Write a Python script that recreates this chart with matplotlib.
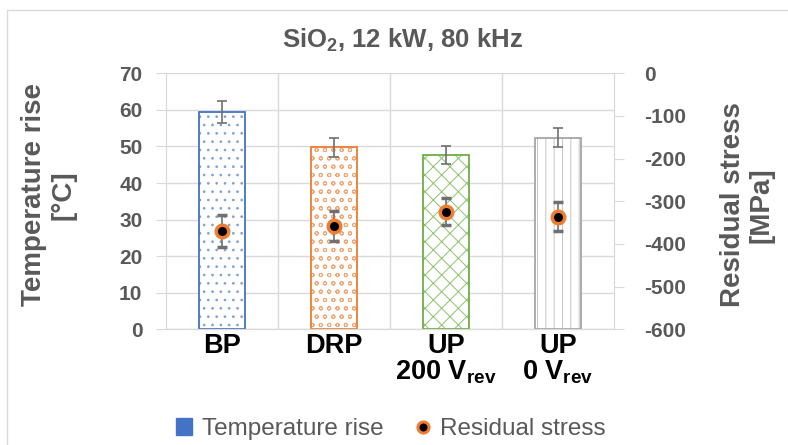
import matplotlib
matplotlib.use("Agg")
import matplotlib.pyplot as plt
from matplotlib.patches import Rectangle, Patch
from matplotlib.lines import Line2D
import numpy as np

plt.rcParams['font.family'] = ['Liberation Sans', 'DejaVu Sans']
plt.rcParams['mathtext.fontset'] = 'custom'
plt.rcParams['mathtext.rm'] = 'Liberation Sans:bold'
plt.rcParams['mathtext.it'] = 'Liberation Sans:bold'
plt.rcParams['mathtext.bf'] = 'Liberation Sans:bold'
plt.rcParams['mathtext.default'] = 'rm'
plt.rcParams['hatch.linewidth'] = 0.7

categories = ["BP", "DRP", "UP\n200 V$_{rev}$", "UP\n0 V$_{rev}$"]
temp_rise = [59.5, 49.8, 47.7, 52.4]
temp_err = [3.0, 2.6, 2.4, 2.6]
stress = [-370, -357, -324, -336]
stress_err = [37, 35, 32, 34]
left_ticks = [0, 10, 20, 30, 40, 50, 60, 70]
right_ticks = [0, -100, -200, -300, -400, -500, -600]

bar_colors = ["#4472C4", "#ED7D31", "#70AD47", "#A5A5A5"]
hatch_colors = ["#7F9FDA", "#F3A571", "#8CC26B", "#C4C4C4"]
hatches = ["..", "oo", "xx", "||"]
GRID = "#D9D9D9"
TXT = "#595959"

W, H = 788, 445
fig = plt.figure(figsize=(W / 100, H / 100), dpi=100)
fig.patches.append(Rectangle((7 / W, -0.5), 2, 0.5 + 1 - 10 / H, transform=fig.transFigure,
                             fill=False, edgecolor=GRID, linewidth=1.0))

ax = fig.add_axes([166 / W, 1 - 329.3 / H, 448 / W, 256 / H])
x = np.arange(len(categories))
for i in range(len(categories)):
    ax.bar(x[i], temp_rise[i], width=0.41, facecolor="white", edgecolor=hatch_colors[i],
           hatch=hatches[i], linewidth=0, zorder=2)
    ax.bar(x[i], temp_rise[i], width=0.41, fill=False, edgecolor=bar_colors[i],
           linewidth=1.3, zorder=2.5)
ax.errorbar(x, temp_rise, yerr=temp_err, fmt="none", ecolor="#707070", elinewidth=1.2,
            capsize=3.5, capthick=1.2, zorder=3)

ax.set_xlim(-0.5, 3.5)
ax.set_ylim(0, 70)
ax.set_yticks(left_ticks)
ax.set_yticklabels([str(v) for v in left_ticks], fontsize=15, fontweight="bold", color=TXT)
ax.tick_params(axis="y", length=7, color=GRID, pad=10)
ax.set_xticks(x)
ax.set_xticklabels(categories, fontsize=19.5, fontweight="bold", color="black", linespacing=0.95)
ax.tick_params(axis="x", length=0, pad=3)
ax.set_xticks([0.5, 1.5, 2.5], minor=True)
ax.tick_params(axis="x", which="minor", length=0)
ax.grid(True, axis="y", color=GRID, linewidth=1.0, zorder=0)
ax.grid(True, axis="x", which="minor", color=GRID, linewidth=1.0, zorder=0)
for s in ["left", "right", "bottom", "top"]:
    ax.spines[s].set_color(GRID)
ax.spines["top"].set_visible(False)
ax.set_axisbelow(True)

ax2 = ax.twinx()
ax2.set_ylim(-600, 0)
ax2.set_yticks(right_ticks)
ax2.set_yticklabels([str(v) for v in right_ticks], fontsize=15, fontweight="bold", color=TXT)
ax2.tick_params(axis="y", length=7, color=GRID, pad=15)
for s in ["left", "right", "bottom", "top"]:
    ax2.spines[s].set_color(GRID)
ax2.spines["top"].set_visible(False)
ax2.errorbar(x, stress, yerr=stress_err, fmt="o", color="black", markersize=9,
             markerfacecolor="black", markeredgecolor="#ED7D31", markeredgewidth=2.5,
             ecolor="#707070", elinewidth=1.2, capsize=3.5, capthick=1.2, zorder=4)

fig.text(402 / W, 1 - 40 / H, "SiO$_2$, 12 kW, 80 kHz", ha="center", va="center",
         fontsize=18.5, fontweight="bold", color=TXT)

fig.text(49 / W, 1 - 195 / H, "Temperature rise\n[°C]", rotation=90, ha="center", va="center",
         multialignment="center", fontsize=20, fontweight="bold", color=TXT, linespacing=1.15)
fig.text(747 / W, 1 - 205 / H, "Residual stress\n[MPa]", rotation=90, ha="center", va="center",
         multialignment="center", fontsize=20, fontweight="bold", color=TXT, linespacing=1.15)

handles = [Patch(facecolor="#4472C4", edgecolor="#4472C4"),
           Line2D([], [], marker="o", linestyle="none", markersize=8, markerfacecolor="black",
                  markeredgecolor="#ED7D31", markeredgewidth=2.2)]
leg = fig.legend(handles, ["Temperature rise", "Residual stress"], loc="center",
                 bbox_to_anchor=(391 / W, 1 - 429 / H), ncol=2, frameon=False,
                 fontsize=17.5, handlelength=0.65, handleheight=0.65, handletextpad=0.4,
                 columnspacing=1.3)
for t in leg.get_texts():
    t.set_color(TXT)

fig.savefig("out.png", dpi=100)
